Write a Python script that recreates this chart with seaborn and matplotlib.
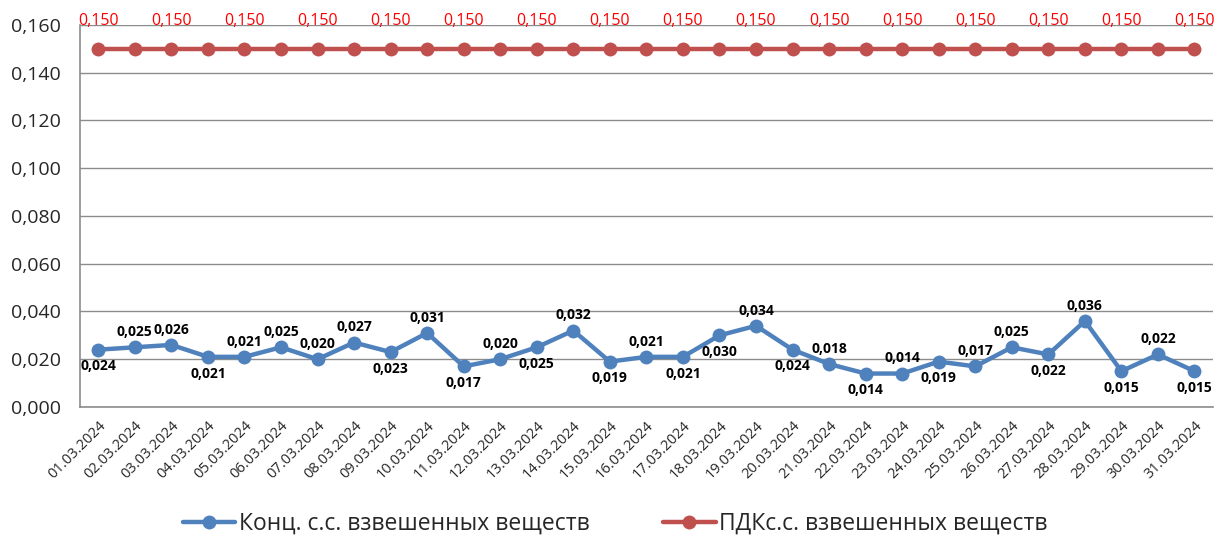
import numpy as np
import pandas as pd
import seaborn as sns
import matplotlib.pyplot as plt
from matplotlib.ticker import FuncFormatter, MultipleLocator

# data
dates = [f"{d:02d}.03.2024" for d in range(1, 32)]
conc = [0.024, 0.025, 0.026, 0.021, 0.021, 0.025, 0.020, 0.027, 0.023, 0.031,
        0.017, 0.020, 0.025, 0.032, 0.019, 0.021, 0.021, 0.030, 0.034, 0.024,
        0.018, 0.014, 0.014, 0.019, 0.017, 0.025, 0.022, 0.036, 0.015, 0.022,
        0.015]
pdk = [0.150] * 31
# where each blue data label sits: a = above, b = below
label_side = ['b', 'a', 'a', 'b', 'a', 'a', 'a', 'a', 'b', 'a', 'b', 'a', 'b', 'a', 'b', 'a',
              'b', 'b', 'a', 'b', 'a', 'b', 'a', 'b', 'a', 'a', 'b', 'a', 'b', 'a', 'b']

name_conc = 'Конц. с.с. взвешенных веществ'
name_pdk = 'ПДКс.с. взвешенных веществ'

sns.set_style('white')
plt.rcParams['font.family'] = ['Open Sans', 'DejaVu Sans']

blue = '#4F81BD'
red = '#C0504D'
grid_c = '#8C8C8C'

df = pd.DataFrame({'x': np.arange(len(dates)), 'conc': conc, 'pdk': pdk})

fig = plt.figure(figsize=(12.18, 5.35), dpi=100)
ax = fig.add_axes([0.0657, 0.2393, 0.930, 0.714])

sns.lineplot(data=df, x='x', y='conc', ax=ax, color=blue, linewidth=3.2,
             marker='o', markersize=10, markeredgewidth=0, label=name_conc)
sns.lineplot(data=df, x='x', y='pdk', ax=ax, color=red, linewidth=3.2,
             marker='o', markersize=10, markeredgewidth=0, label=name_pdk)

fmt = lambda v: f"{v:.3f}".replace('.', ',')

for i, (v, s) in enumerate(zip(conc, label_side)):
    off = 11 if s == 'a' else -12
    ax.annotate(fmt(v), (i, v), xytext=(0, off), textcoords='offset points',
                ha='center', va='center',
                fontsize=10, fontweight='bold', color='black')

# overlapping labels are hidden in the original, only every other one shows
for i, v in enumerate(pdk):
    if i % 2:
        continue
    ax.annotate(fmt(v), (i, v), xytext=(0, 20), textcoords='offset points',
                ha='center', va='center', fontsize=11.5, color='red',
                annotation_clip=False)

ax.set_xlim(-0.5, len(dates) - 0.5)
ax.set_ylim(0, 0.16)
ax.yaxis.set_major_locator(MultipleLocator(0.02))
ax.yaxis.set_major_formatter(FuncFormatter(lambda v, p: fmt(v)))
ax.set_xticks(np.arange(len(dates)))
ax.set_xticklabels(dates, rotation=45, ha='right', rotation_mode='anchor', fontsize=10.5)
ax.set_xticks(np.arange(len(dates) + 1) - 0.5, minor=True)
ax.tick_params(axis='x', which='major', length=0, pad=8)
ax.tick_params(axis='x', which='minor', length=5, color=grid_c, direction='out')
ax.tick_params(axis='y', length=5, color=grid_c, direction='out', labelsize=14, pad=9)
ax.grid(axis='y', color=grid_c, linewidth=1)
ax.set_axisbelow(True)
ax.set_xlabel('')
ax.set_ylabel('')
for side in ['top', 'right']:
    ax.spines[side].set_visible(False)
for side in ['left', 'bottom']:
    ax.spines[side].set_color(grid_c)
    ax.spines[side].set_linewidth(1.2)

ax.get_legend().remove()
handles, labels = ax.get_legend_handles_labels()
fig.legend(handles, labels, loc='lower center', bbox_to_anchor=(0.505, -0.04), ncol=2,
           frameon=False, fontsize=16.5, handlelength=2.3, columnspacing=3.2,
           handletextpad=0.15)

fig.savefig('out.png', dpi=100)
